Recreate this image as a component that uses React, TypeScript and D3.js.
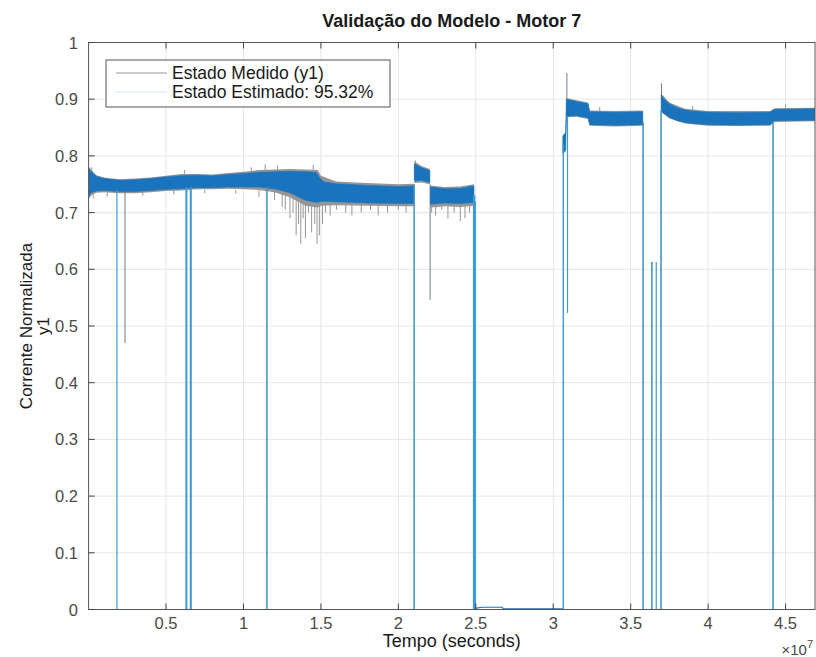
import React from 'react';
import * as d3 from 'd3';

// ---------- DATA (time in units of 1e7 s) ----------
const title = 'Validação do Modelo - Motor 7';
const xLabel = 'Tempo (seconds)';
const yLabelLines = ['Corrente Normalizada', 'y1'];
const legendLabels = ['Estado Medido (y1)', 'Estado Estimado: 95.32%'];
const xTicks = [0.5, 1, 1.5, 2, 2.5, 3, 3.5, 4, 4.5];
const xTickLabels = ['0.5', '1', '1.5', '2', '2.5', '3', '3.5', '4', '4.5'];
const yTicks = [0, 0.1, 0.2, 0.3, 0.4, 0.5, 0.6, 0.7, 0.8, 0.9, 1];
const yTickLabels = ['0', '0.1', '0.2', '0.3', '0.4', '0.5', '0.6', '0.7', '0.8', '0.9', '1'];

type Row = [number, number, number]; // [t, lo, hi]

// Measured (gray) envelope segments
const measSegA: Row[] = [
  [0.0, 0.724, 0.781], [0.02, 0.731, 0.775], [0.05, 0.735, 0.766], [0.1, 0.736, 0.762],
  [0.2, 0.734, 0.759], [0.3, 0.734, 0.76], [0.4, 0.736, 0.762], [0.5, 0.738, 0.765],
  [0.6, 0.739, 0.768], [0.7, 0.741, 0.768], [0.8, 0.741, 0.767], [0.9, 0.742, 0.77],
  [1.0, 0.741, 0.772], [1.1, 0.74, 0.775], [1.2, 0.736, 0.776], [1.3, 0.727, 0.777],
  [1.4, 0.712, 0.776], [1.48, 0.709, 0.775], [1.5, 0.712, 0.765], [1.6, 0.713, 0.755],
  [1.8, 0.712, 0.752], [2.0, 0.711, 0.75], [2.1, 0.711, 0.751],
];
const measSegB: Row[] = [[2.103, 0.752, 0.79], [2.15, 0.753, 0.782], [2.203, 0.75, 0.777]];
const measSegC: Row[] = [[2.207, 0.709, 0.748], [2.3, 0.711, 0.745], [2.4, 0.71, 0.746], [2.488, 0.712, 0.75]];
const measSegE: Row[] = [
  [3.062, 0.803, 0.837], [3.08, 0.808, 0.842], [3.085, 0.868, 0.902], [3.15, 0.869, 0.898],
  [3.225, 0.865, 0.894], [3.235, 0.853, 0.88], [3.4, 0.852, 0.879], [3.578, 0.853, 0.88],
];
const measSegF: Row[] = [
  [3.697, 0.877, 0.91], [3.75, 0.866, 0.894], [3.85, 0.857, 0.883], [4.0, 0.853, 0.879],
  [4.4, 0.853, 0.879], [4.43, 0.86, 0.884], [4.69, 0.861, 0.885],
];

// Estimated (blue) envelope segments
const estSegA: Row[] = [
  [0.0, 0.728, 0.778], [0.015, 0.735, 0.772], [0.05, 0.738, 0.764], [0.1, 0.739, 0.76],
  [0.2, 0.737, 0.757], [0.3, 0.737, 0.758], [0.4, 0.739, 0.76], [0.5, 0.741, 0.763],
  [0.6, 0.742, 0.765], [0.7, 0.744, 0.766], [0.8, 0.744, 0.765], [0.9, 0.745, 0.767],
  [1.0, 0.745, 0.769], [1.1, 0.745, 0.771], [1.2, 0.742, 0.772], [1.3, 0.735, 0.773],
  [1.4, 0.722, 0.772], [1.47, 0.718, 0.771], [1.49, 0.719, 0.762], [1.52, 0.72, 0.754],
  [1.6, 0.719, 0.751], [1.8, 0.717, 0.748], [2.0, 0.716, 0.746], [2.1, 0.716, 0.747],
];
const estSegB: Row[] = [[2.103, 0.756, 0.786], [2.15, 0.757, 0.779], [2.203, 0.753, 0.774]];
const estSegC: Row[] = [[2.207, 0.715, 0.745], [2.3, 0.717, 0.742], [2.4, 0.716, 0.743], [2.488, 0.718, 0.747]];
const estSegE: Row[] = [
  [3.062, 0.805, 0.835], [3.08, 0.81, 0.84], [3.085, 0.87, 0.9], [3.15, 0.871, 0.896],
  [3.225, 0.867, 0.892], [3.235, 0.855, 0.878], [3.4, 0.854, 0.877], [3.578, 0.855, 0.878],
];
const estSegF: Row[] = [
  [3.697, 0.879, 0.907], [3.72, 0.874, 0.899], [3.75, 0.868, 0.892], [3.8, 0.862, 0.885],
  [3.85, 0.859, 0.881], [3.9, 0.857, 0.879], [4.0, 0.855, 0.877], [4.2, 0.854, 0.876],
  [4.4, 0.855, 0.877], [4.425, 0.862, 0.882], [4.69, 0.863, 0.883],
];
// Near-zero stretches [t, value]
const zeroStretch1: [number, number][] = [[2.495, 0.002], [2.54, 0.004], [2.67, 0.004], [2.68, 0.001], [3.062, 0.001]];
const zeroStretch2: [number, number][] = [[3.578, 0.0], [3.697, 0.0]];

// Vertical excursions [t, from, to]
const estDrops: Row[] = [
  [0.183, 0.74, 0], [0.629, 0.745, 0], [0.634, 0.745, 0], [0.657, 0.745, 0], [0.662, 0.745, 0],
  [1.151, 0.745, 0], [2.102, 0.75, 0], [2.485, 0.73, 0], [2.489, 0.73, 0], [2.493, 0.73, 0],
  [2.497, 0.72, 0], [3.065, 0.82, 0], [3.58, 0.86, 0], [3.696, 0.88, 0], [4.419, 0.86, 0],
  [3.092, 0.87, 0.523], [3.637, 0, 0.613], [3.665, 0, 0.613],
];
const measDrops: Row[] = [
  [0.632, 0.745, 0], [0.66, 0.745, 0], [1.151, 0.745, 0], [2.102, 0.75, 0], [2.49, 0.73, 0],
  [3.065, 0.82, 0], [3.58, 0.86, 0], [3.696, 0.88, 0], [4.419, 0.86, 0],
  [0.235, 0.74, 0.47], [2.205, 0.75, 0.546], [3.088, 0.88, 0.946], [3.699, 0.89, 0.928],
  [3.637, 0, 0.613],
];
// Measured noise dips below / above band [t, value]
const measDips: [number, number][] = [
  [0.03, 0.725], [0.12, 0.728], [0.35, 0.73], [0.55, 0.732], [0.75, 0.734], [0.95, 0.733],
  [1.1, 0.728], [1.2, 0.722], [1.25, 0.71], [1.27, 0.705], [1.3, 0.69], [1.32, 0.7],
  [1.34, 0.66], [1.355, 0.68], [1.37, 0.645], [1.385, 0.69], [1.4, 0.655], [1.42, 0.7],
  [1.44, 0.665], [1.46, 0.68], [1.475, 0.645], [1.49, 0.66], [1.51, 0.68], [1.53, 0.7],
  [1.56, 0.695], [1.6, 0.705], [1.66, 0.7], [1.7, 0.695], [1.76, 0.7], [1.82, 0.705],
  [1.87, 0.695], [1.93, 0.7], [2.0, 0.705], [2.05, 0.7], [2.215, 0.7], [2.24, 0.695],
  [2.28, 0.705], [2.32, 0.69], [2.36, 0.7], [2.4, 0.685], [2.43, 0.69], [2.46, 0.7],
];
const measUps: [number, number][] = [
  [0.02, 0.78], [0.62, 0.775], [1.05, 0.78], [1.14, 0.785], [1.22, 0.783], [1.45, 0.784],
  [2.11, 0.792], [3.3, 0.886], [3.9, 0.888], [4.5, 0.89],
];

// ---------- CHART ----------
const W = 816;
const H = 657;
const L = 88.6, R = 815, T = 42.5, B = 609.5;
const FONT = '"Liberation Sans", Arial, Helvetica, sans-serif';
const GRAY = '#969696';
const BLUE = '#1a74bd';

export default function App() {
  const x = d3.scaleLinear().domain([0, 4.69]).range([L, R]);
  const y = d3.scaleLinear().domain([0, 1]).range([B, T]);
  const area = d3.area<Row>().x((d) => x(d[0])).y0((d) => y(d[1])).y1((d) => y(d[2]));
  const line = d3.line<[number, number]>().x((d) => x(d[0])).y((d) => y(d[1]));
  const measSegs = [measSegA, measSegB, measSegC, measSegE, measSegF];
  const estSegs = [estSegA, estSegB, estSegC, estSegE, estSegF];

  return (
    <svg width={W} height={H} style={{ position: 'absolute', left: 0, top: 0, background: '#fff' }}>
      <defs>
        <clipPath id="plot">
          <rect x={L} y={T} width={R - L} height={B - T} />
        </clipPath>
      </defs>
      <rect x={0} y={0} width={W} height={H} fill="#fff" />
      {/* grid */}
      {xTicks.map((t) => (
        <line key={'gx' + t} x1={x(t)} x2={x(t)} y1={T} y2={B} stroke="#e6e6e6" strokeWidth={1} />
      ))}
      {yTicks.map((t) => (
        <line key={'gy' + t} x1={L} x2={R} y1={y(t)} y2={y(t)} stroke="#e6e6e6" strokeWidth={1} />
      ))}
      <g clipPath="url(#plot)">
        {/* measured */}
        {measSegs.map((s, i) => (
          <path key={'ma' + i} d={area(s) || ''} fill={GRAY} stroke="none" />
        ))}
        {measDips.map((d, i) => (
          <line key={'md' + i} x1={x(d[0])} x2={x(d[0])} y1={y(0.74)} y2={y(d[1])} stroke={GRAY} strokeWidth={1} />
        ))}
        {measUps.map((d, i) => (
          <line key={'mu' + i} x1={x(d[0])} x2={x(d[0])} y1={y(d[1] - 0.02)} y2={y(d[1])} stroke={GRAY} strokeWidth={1} />
        ))}
        {measDrops.map((d, i) => (
          <line key={'mdr' + i} x1={x(d[0])} x2={x(d[0])} y1={y(d[1])} y2={y(d[2])} stroke="#6f7f88" strokeWidth={1} />
        ))}
        {/* estimated */}
        {estSegs.map((s, i) => (
          <path key={'ea' + i} d={area(s) || ''} fill={BLUE} stroke={BLUE} strokeWidth={0.6} />
        ))}
        <path d={line(zeroStretch1) || ''} fill="none" stroke={BLUE} strokeWidth={1.2} />
        <path d={line(zeroStretch2) || ''} fill="none" stroke={BLUE} strokeWidth={1.2} />
        {estDrops.map((d, i) => (
          <line key={'ed' + i} x1={x(d[0])} x2={x(d[0])} y1={y(d[1])} y2={y(d[2])} stroke="#3b9bd6" strokeWidth={1.2} />
        ))}
      </g>
      {/* axes box */}
      <rect x={L} y={T} width={R - L} height={B - T} fill="none" stroke="#555" strokeWidth={1} />
      {xTicks.map((t) => (
        <g key={'tx' + t}>
          <line x1={x(t)} x2={x(t)} y1={B} y2={B - 6} stroke="#444" />
          <line x1={x(t)} x2={x(t)} y1={T} y2={T + 6} stroke="#444" />
        </g>
      ))}
      {yTicks.map((t) => (
        <line key={'ty' + t} x1={L} x2={L + 6} y1={y(t)} y2={y(t)} stroke="#444" />
      ))}
      {/* tick labels */}
      {xTicks.map((t, i) => (
        <text key={'lx' + t} x={x(t)} y={629} textAnchor="middle" fontFamily={FONT} fontSize={16.5} fill="#4a4a4a">
          {xTickLabels[i]}
        </text>
      ))}
      {yTicks.map((t, i) => (
        <text key={'ly' + t} x={78} y={y(t) + 6} textAnchor="end" fontFamily={FONT} fontSize={16.5} fill="#4a4a4a">
          {yTickLabels[i]}
        </text>
      ))}
      <text x={813} y={655} textAnchor="end" fontFamily={FONT} fontSize={15} fill="#4a4a4a">
        ×10<tspan dy={-7} fontSize={11}>7</tspan>
      </text>
      {/* labels */}
      <text x={(L + R) / 2} y={27} textAnchor="middle" fontFamily={FONT} fontSize={18} fontWeight="bold" fill="#1a1a1a">
        {title}
      </text>
      <text x={(L + R) / 2} y={647} textAnchor="middle" fontFamily={FONT} fontSize={18} fill="#1a1a1a">
        {xLabel}
      </text>
      {yLabelLines.map((s, i) => (
        <text key={'yl' + i} transform={`translate(${32 + i * 17},${(T + B) / 2}) rotate(-90)`} textAnchor="middle" fontFamily={FONT} fontSize={17} fill="#1a1a1a">
          {s}
        </text>
      ))}
      {/* legend */}
      <rect x={106} y={60} width={284} height={47} fill="#fff" stroke="#555" strokeWidth={1} />
      <line x1={116} x2={167} y1={73} y2={73} stroke={GRAY} strokeWidth={1} />
      <line x1={116} x2={167} y1={92} y2={92} stroke="#cdeaf6" strokeWidth={1} />
      <text x={172} y={79} fontFamily={FONT} fontSize={17.5} fill="#1a1a1a">{legendLabels[0]}</text>
      <text x={172} y={98} fontFamily={FONT} fontSize={17.5} fill="#1a1a1a">{legendLabels[1]}</text>
    </svg>
  );
}
